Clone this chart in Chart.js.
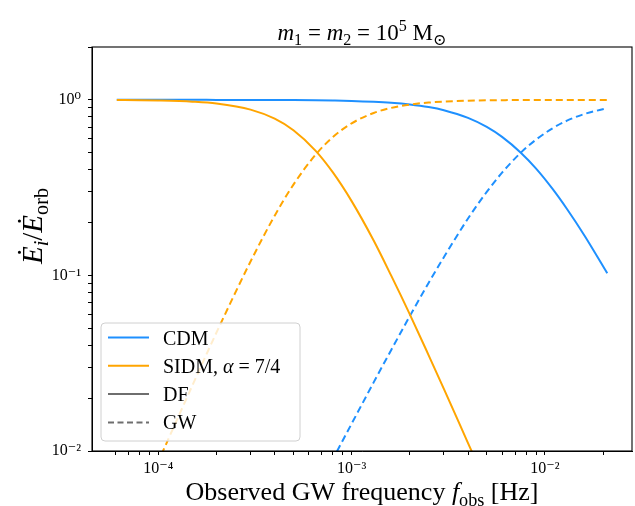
<!DOCTYPE html>
<html>
<head>
<meta charset="utf-8">
<script src="https://cdn.jsdelivr.net/npm/chart.js@4/dist/chart.umd.min.js"></script>
<style>
  html, body { margin: 0; padding: 0; background: #fff; }
  #wrap { width: 635px; height: 506px; }
</style>
</head>
<body>
<div id="wrap"><canvas id="chart" width="635" height="506"></canvas></div>
<script>
// observed GW frequency [Hz]
const freqs = [6.1e-5, 8e-5, 1e-4, 1.5e-4, 2e-4, 3e-4, 4e-4, 5e-4, 6.5e-4, 8e-4,
               1e-3, 1.3e-3, 1.6e-3, 2e-3, 2.5e-3, 3e-3, 4e-3, 5e-3, 6e-3, 7.5e-3,
               9e-3, 1.1e-2, 1.3e-2, 1.6e-2, 2.1e-2];

// CDM: dynamical friction and GW fractions
const cdmDF = [1.0, 1.0, 1.0, 1.0, 0.9995, 0.9988, 0.998, 0.9966, 0.994, 0.991,
               0.986, 0.975, 0.962, 0.941, 0.910, 0.873, 0.789, 0.701, 0.615, 0.5,
               0.406, 0.309, 0.239, 0.169, 0.103];
const cdmGW = [4.1e-5, 7.2e-5, 1.15e-4, 2.7e-4, 4.9e-4, 1.16e-3, 2.12e-3, 3.39e-3, 5.9e-3, 0.0090,
               0.0143, 0.0246, 0.0375, 0.0587, 0.0905, 0.127, 0.211, 0.299, 0.385, 0.5,
               0.594, 0.691, 0.761, 0.831, 0.897];

// SIDM (alpha = 7/4)
const sidmDF = [0.9975, 0.995, 0.991, 0.976, 0.953, 0.880, 0.781, 0.671, 0.514, 0.386,
                0.265, 0.158, 0.100, 0.060, 0.0352, 0.0226, 0.0111, 0.0064, 0.0041, 0.00234,
                0.00148, 9e-4, 5.9e-4, 3.5e-4, 1.8e-4];
const sidmGW = [0.00254, 0.0050, 0.0087, 0.0236, 0.0473, 0.120, 0.219, 0.329, 0.486, 0.614,
                0.735, 0.842, 0.900, 0.940, 0.965, 0.977, 0.989, 0.994, 0.996, 0.998,
                0.9985, 0.999, 0.9993, 0.9995, 0.9997];

const xTickLabels = { '-4': '10⁻⁴', '-3': '10⁻³', '-2': '10⁻²' };
const yTickLabels = { '-2': '10⁻²', '-1': '10⁻¹', '0': '10⁰' };

const legendItems = [
    { label: [{ t: 'CDM' }], color: '#1e90ff', dash: [] },
    { label: [{ t: 'SIDM, ' }, { t: 'α', i: true }, { t: ' = 7/4' }], color: '#ffa500', dash: [] },
    { label: [{ t: 'DF' }], color: '#6e6e6e', dash: [] },
    { label: [{ t: 'GW' }], color: '#6e6e6e', dash: [6, 3.5] }
];

const BLUE = '#1e90ff';
const ORANGE = '#ffa500';
const SERIF = '"Liberation Serif", "DejaVu Serif", serif';

function pts(ys) {
    return freqs.map((f, k) => ({ x: f, y: ys[k] }));
}

// draw a run of text pieces (italic / sub / sup), centred on (x, y)
function richWidth(ctx, parts, size) {
    let w = 0;
    parts.forEach(p => {
        const s = (p.sub || p.sup) ? size * 0.7 : size;
        ctx.font = (p.i ? 'italic ' : '') + s + 'px ' + SERIF;
        w += ctx.measureText(p.t).width;
    });
    return w;
}

function drawRich(ctx, parts, x, y, size, align) {
    const w = richWidth(ctx, parts, size);
    let cx = align === 'left' ? x : x - w / 2;
    ctx.textBaseline = 'alphabetic';
    ctx.textAlign = 'left';
    ctx.fillStyle = '#000';
    parts.forEach(p => {
        const s = (p.sub || p.sup) ? size * 0.7 : size;
        ctx.font = (p.i ? 'italic ' : '') + s + 'px ' + SERIF;
        let dy = 0;
        if (p.sub) dy = size * 0.22;
        if (p.sup) dy = -size * 0.4;
        ctx.fillText(p.t, cx, y + dy);
        cx += ctx.measureText(p.t).width;
    });
}

function isNice(v) {
    const e = Math.floor(Math.log10(v) + 1e-9);
    const m = v / Math.pow(10, e);
    return Math.abs(m - Math.round(m)) < 1e-6;
}

function decadeLabel(map, v) {
    const e = Math.log10(v);
    const k = Math.round(e);
    return Math.abs(e - k) < 1e-6 && map[String(k)] ? map[String(k)] : '';
}

const decorations = {
    id: 'decorations',
    afterDraw(chart) {
        const ctx = chart.ctx;
        const a = chart.chartArea;
        ctx.save();

        // frame
        ctx.strokeStyle = '#000';
        ctx.lineWidth = 1.1;
        ctx.strokeRect(a.left, a.top, a.right - a.left, a.bottom - a.top);

        // title
        drawRich(ctx, [
            { t: 'm', i: true }, { t: '1', sub: true }, { t: ' = ' },
            { t: 'm', i: true }, { t: '2', sub: true }, { t: ' = 10' },
            { t: '5', sup: true }, { t: ' M' }, { t: '⊙', sub: true }
        ], (a.left + a.right) / 2, 40, 23);

        // x title
        drawRich(ctx, [
            { t: 'Observed GW frequency ' }, { t: 'f', i: true },
            { t: 'obs', sub: true }, { t: ' [Hz]' }
        ], (a.left + a.right) / 2, 500, 26);

        // y title
        ctx.save();
        ctx.translate(42, 226);
        ctx.rotate(-Math.PI / 2);
        drawRich(ctx, [
            { t: 'Ė', i: true }, { t: 'i', i: true, sub: true }, { t: '/' },
            { t: 'Ė', i: true }, { t: 'orb', sub: true }
        ], 0, 0, 29);
        ctx.restore();

        // legend
        const lx = 101, ly = 323, lw = 199, lh = 118, r = 4;
        ctx.beginPath();
        ctx.moveTo(lx + r, ly);
        ctx.arcTo(lx + lw, ly, lx + lw, ly + lh, r);
        ctx.arcTo(lx + lw, ly + lh, lx, ly + lh, r);
        ctx.arcTo(lx, ly + lh, lx, ly, r);
        ctx.arcTo(lx, ly, lx + lw, ly, r);
        ctx.closePath();
        ctx.fillStyle = 'rgba(255,255,255,0.8)';
        ctx.fill();
        ctx.strokeStyle = '#d0d0d0';
        ctx.lineWidth = 1;
        ctx.stroke();

        legendItems.forEach((it, k) => {
            const yy = 337.5 + k * 28.3;
            ctx.beginPath();
            ctx.setLineDash(it.dash);
            ctx.strokeStyle = it.color;
            ctx.lineWidth = 2;
            ctx.moveTo(108, yy);
            ctx.lineTo(149, yy);
            ctx.stroke();
            ctx.setLineDash([]);
            drawRich(ctx, it.label, 163, yy + 7, 20, 'left');
        });

        ctx.restore();
    }
};

const lineStyle = { pointRadius: 0, borderWidth: 2, fill: false, cubicInterpolationMode: 'monotone' };

new Chart(document.getElementById('chart'), {
    type: 'line',
    data: {
        datasets: [
            Object.assign({ label: 'CDM DF', data: pts(cdmDF), borderColor: BLUE, order: 2 }, lineStyle),
            Object.assign({ label: 'CDM GW', data: pts(cdmGW), borderColor: BLUE, borderDash: [7, 4], order: 2 }, lineStyle),
            Object.assign({ label: 'SIDM DF', data: pts(sidmDF), borderColor: ORANGE, order: 1 }, lineStyle),
            Object.assign({ label: 'SIDM GW', data: pts(sidmGW), borderColor: ORANGE, borderDash: [7, 4], order: 1 }, lineStyle)
        ]
    },
    options: {
        responsive: false,
        animation: false,
        devicePixelRatio: 1,
        layout: { padding: { top: 47, right: 3, left: 0, bottom: 0 } },
        plugins: { legend: { display: false }, title: { display: false }, tooltip: { enabled: false } },
        scales: {
            x: {
                type: 'logarithmic',
                min: 4.54e-5,
                max: 0.0282,
                afterBuildTicks(scale) { scale.ticks = scale.ticks.filter(t => isNice(t.value)); },
                afterFit(scale) { scale.height = 55; },
                grid: { drawOnChartArea: false, tickLength: 4, tickColor: '#000' },
                border: { color: '#000', width: 1 },
                ticks: {
                    autoSkip: false, maxRotation: 0, padding: 4, color: '#000',
                    font: { family: SERIF, size: 16 },
                    callback(v) { return decadeLabel(xTickLabels, v); }
                }
            },
            y: {
                type: 'logarithmic',
                min: 0.01,
                max: 2,
                afterBuildTicks(scale) { scale.ticks = scale.ticks.filter(t => isNice(t.value)); },
                afterFit(scale) { scale.width = 92; },
                grid: { drawOnChartArea: false, tickLength: 4, tickColor: '#000' },
                border: { color: '#000', width: 1 },
                ticks: {
                    autoSkip: false, padding: 7, color: '#000',
                    font: { family: SERIF, size: 16 },
                    callback(v) { return decadeLabel(yTickLabels, v); }
                }
            }
        }
    },
    plugins: [decorations]
});
</script>
</body>
</html>
